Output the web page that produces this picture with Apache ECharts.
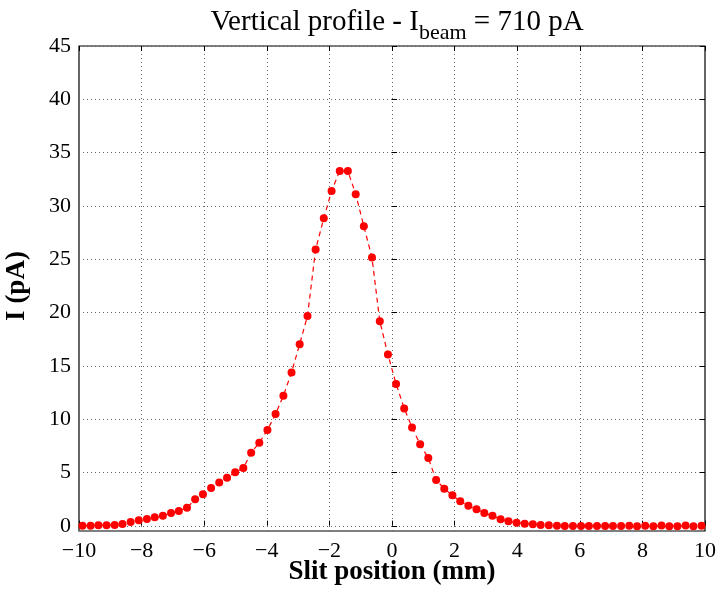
<!DOCTYPE html>
<html>
<head>
<meta charset="utf-8">
<script src="https://cdn.jsdelivr.net/npm/echarts@6/dist/echarts.min.js"></script>
<style>html,body{margin:0;padding:0;background:#fff}#c{width:719px;height:590px}</style>
</head>
<body>
<div id="c"></div>
<script>
const slitPosition = [
  -9.89,-9.63,-9.38,-9.12,-8.86,-8.61,-8.35,-8.09,-7.83,-7.58,
  -7.32,-7.06,-6.81,-6.55,-6.29,-6.04,-5.78,-5.52,-5.27,-5.01,
  -4.75,-4.50,-4.24,-3.98,-3.72,-3.47,-3.21,-2.95,-2.70,-2.44,
  -2.18,-1.93,-1.67,-1.41,-1.16,-0.90,-0.64,-0.39,-0.13,0.13,
  0.39,0.64,0.90,1.16,1.41,1.67,1.93,2.18,2.44,2.70,
  2.95,3.21,3.47,3.72,3.98,4.24,4.50,4.75,5.01,5.27,
  5.52,5.78,6.04,6.29,6.55,6.81,7.06,7.32,7.58,7.83,
  8.09,8.35,8.61,8.86,9.12,9.38,9.63,9.89
];
const current = [
  0.00,0.00,0.03,0.05,0.07,0.16,0.35,0.50,0.63,0.78,
  0.94,1.19,1.38,1.69,2.47,2.94,3.53,4.06,4.50,5.00,
  5.41,6.84,7.78,8.97,10.47,12.19,14.38,17.03,19.68,25.90,
  28.84,31.40,33.27,33.27,31.10,28.10,25.15,19.18,16.06,13.30,
  11.00,9.22,7.63,6.34,4.28,3.47,2.85,2.28,1.88,1.53,
  1.19,0.94,0.60,0.41,0.28,0.19,0.13,0.07,0.03,-0.01,
  -0.03,-0.03,-0.03,-0.03,-0.03,-0.03,-0.03,-0.03,-0.01,-0.05,
  -0.01,-0.05,0.01,-0.05,-0.05,0.01,-0.05,-0.01
];
const xTicks = [-10,-8,-6,-4,-2,0,2,4,6,8,10];
const yTicks = [0,5,10,15,20,25,30,35,40,45];

const FONT = '"Liberation Serif","DejaVu Serif",serif';
const fmt = v => v < 0 ? '\u2212' + Math.abs(v) : String(v);
const dotted = {show:true, lineStyle:{type:[1,3], color:'#666', width:1}};

const chart = echarts.init(document.getElementById('c'));
chart.setOption({
  animation:false,
  backgroundColor:'#fff',
  title:{
    text:'{a|Vertical profile - I}{b|beam}{a| = 710 pA}',
    left:392, textAlign:'center', top:3,
    textStyle:{
      fontWeight:'normal',
      rich:{
        a:{fontFamily:FONT, fontSize:29, fontWeight:'normal', color:'#000', verticalAlign:'bottom', padding:[0,0,7,0]},
        b:{fontFamily:FONT, fontSize:22, fontWeight:'normal', color:'#000', verticalAlign:'bottom'}
      }
    }
  },
  grid:[
    {left:79, right:14, top:46, bottom:59, containLabel:false, outerBoundsMode:'none',
     show:true, borderColor:'#000', borderWidth:1.2, backgroundColor:'transparent'},
    {left:79, right:14, top:46, bottom:64, containLabel:false, outerBoundsMode:'none', show:false}
  ],
  xAxis:[
    {gridIndex:0, type:'value', min:xTicks[0], max:xTicks[xTicks.length-1], interval:2, position:'bottom',
     axisLine:{show:false}, axisTick:{show:true, inside:true, length:5, lineStyle:{color:'#000'}},
     axisLabel:{fontFamily:FONT, fontSize:22, color:'#000', margin:9, formatter:fmt},
     splitLine:dotted,
     name:'Slit position (mm)', nameLocation:'middle', nameGap:28, nameMoveOverlap:false,
     nameTextStyle:{fontFamily:FONT, fontSize:27, fontWeight:'bold', color:'#000'}},
    {gridIndex:0, type:'value', min:xTicks[0], max:xTicks[xTicks.length-1], interval:2, position:'top',
     axisLine:{show:false}, axisTick:{show:true, inside:true, length:5, lineStyle:{color:'#000'}},
     axisLabel:{show:false}, splitLine:{show:false}},
    {gridIndex:1, type:'value', min:-10, max:10, show:false}
  ],
  yAxis:[
    {gridIndex:0, type:'value', min:-0.5, max:45, axisLine:{show:false}, axisTick:{show:false},
     axisLabel:{show:false}, splitLine:{show:false}},
    {gridIndex:1, type:'value', min:yTicks[0], max:yTicks[yTicks.length-1], interval:5, position:'left',
     axisLine:{show:false}, axisTick:{show:true, inside:true, length:5, lineStyle:{color:'#000'}},
     axisLabel:{fontFamily:FONT, fontSize:22, color:'#000', margin:8, formatter:fmt},
     splitLine:dotted,
     name:'I (pA)', nameLocation:'middle', nameGap:48, nameRotate:90, nameMoveOverlap:false,
     nameTextStyle:{fontFamily:FONT, fontSize:27, fontWeight:'bold', color:'#000'}},
    {gridIndex:1, type:'value', min:yTicks[0], max:yTicks[yTicks.length-1], interval:5, position:'right',
     axisLine:{show:false}, axisTick:{show:true, inside:true, length:5, lineStyle:{color:'#000'}},
     axisLabel:{show:false}, splitLine:{show:false}}
  ],
  series:[{
    type:'line', xAxisIndex:0, yAxisIndex:0,
    data: slitPosition.map((x,i)=>[x,current[i]]),
    symbol:'circle', symbolSize:8, showSymbol:true,
    itemStyle:{color:'#ff0000', borderWidth:0},
    lineStyle:{color:'#ff0000', width:1.2, type:[5,4]},
    clip:false, z:5
  }]
});
</script>
</body>
</html>
